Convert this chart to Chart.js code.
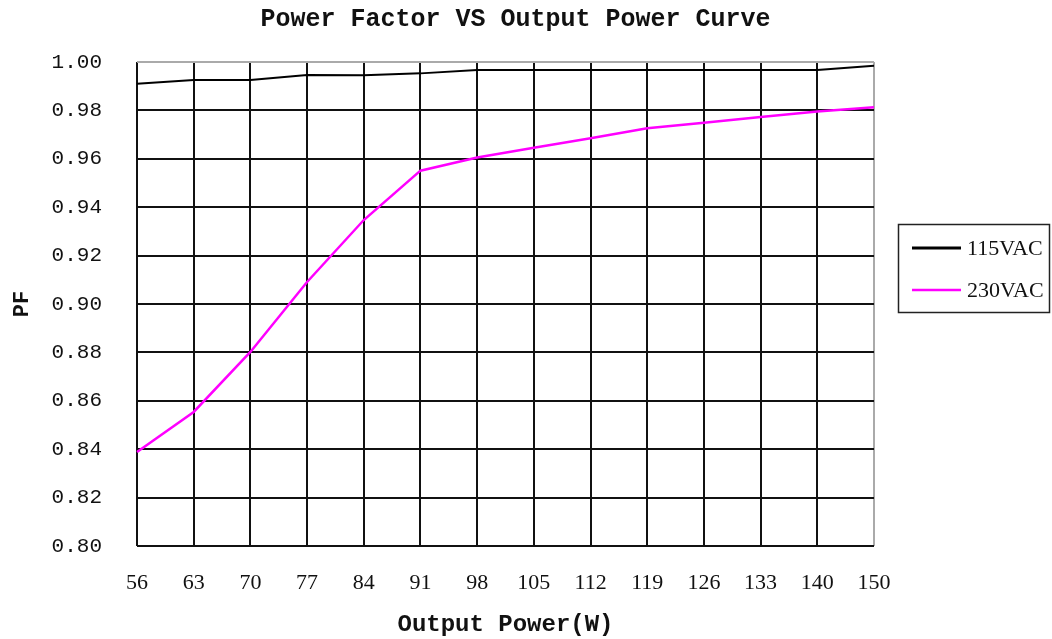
<!DOCTYPE html>
<html>
<head>
<meta charset="utf-8">
<script src="https://cdn.jsdelivr.net/npm/chart.js@4.4.0/dist/chart.umd.min.js"></script>
<style>
  html, body { margin: 0; padding: 0; background: #fff; }
  #wrap { width: 1052px; height: 639px; }
</style>
</head>
<body>
<div id="wrap"><canvas id="pf"></canvas></div>
<script>
const power = ['56', '63', '70', '77', '84', '91', '98', '105', '112', '119', '126', '133', '140', '150'];
const pf115 = [0.991, 0.9926, 0.9926, 0.9946, 0.9945, 0.9953, 0.9967, 0.9967, 0.9967, 0.9967, 0.9967, 0.9967, 0.9967, 0.9985];
const pf230 = [0.8388, 0.8554, 0.8802, 0.9091, 0.9347, 0.9551, 0.9605, 0.9646, 0.9685, 0.9726, 0.9749, 0.9773, 0.9795, 0.9813];
const yTicks = [0.80, 0.82, 0.84, 0.86, 0.88, 0.90, 0.92, 0.94, 0.96, 0.98, 1.00];
const chartTitle = 'Power Factor VS Output Power Curve';

// title over the plot area + legend in a bordered box, drawn by hand
const extras = {
  id: 'extras',
  afterDraw(chart) {
    const c = chart.ctx;
    const a = chart.chartArea;
    c.save();
    c.fillStyle = '#111';
    c.font = 'bold 25px "Liberation Mono"';
    c.textAlign = 'center';
    c.textBaseline = 'middle';
    c.fillText(chartTitle, (a.left + a.right) / 2 + 10, 20);

    c.textAlign = 'left';
    c.strokeStyle = '#222';
    c.lineWidth = 1.5;
    c.strokeRect(898.5, 224.5, 151, 88);
    c.font = '22px "Liberation Serif"';
    chart.data.datasets.forEach((ds, i) => {
      const y = 248 + i * 42;
      c.strokeStyle = ds.borderColor;
      c.lineWidth = i === 0 ? 3 : 2.5;
      c.beginPath();
      c.moveTo(912, y);
      c.lineTo(961, y);
      c.stroke();
      c.fillStyle = '#111';
      c.fillText(ds.label, 967, y + 1);
    });
    c.restore();
  }
};

new Chart(document.getElementById('pf'), {
  type: 'line',
  data: {
    labels: power,
    datasets: [
      { label: '115VAC', data: pf115, borderColor: '#000', borderWidth: 2, pointRadius: 0, tension: 0 },
      { label: '230VAC', data: pf230, borderColor: '#ff00ff', borderWidth: 2.5, pointRadius: 0, tension: 0 }
    ]
  },
  options: {
    responsive: true,
    maintainAspectRatio: false,
    animation: false,
    layout: { padding: { left: 0, right: 178, top: 62, bottom: 0 } },
    plugins: {
      legend: { display: false },
      tooltip: { enabled: false },
      title: { display: false }
    },
    scales: {
      x: {
        offset: false,
        grid: {
          color: ctx => ctx.index === power.length - 1 ? '#aaa' : '#111',
          lineWidth: 2,
          drawTicks: false
        },
        border: { display: false },
        ticks: {
          color: '#111',
          padding: 24,
          maxRotation: 0,
          autoSkip: false,
          font: { family: '"Liberation Serif"', size: 22 }
        },
        title: {
          display: true,
          text: 'Output Power(W)',
          color: '#111',
          font: { family: '"Liberation Mono"', size: 24, weight: 'bold' },
          padding: { top: 0, bottom: 0 }
        },
        afterFit(s) { s.height = 93; }
      },
      y: {
        min: 0.80,
        max: 1.00,
        afterBuildTicks(s) { s.ticks = yTicks.map(v => ({ value: v })); },
        grid: {
          color: ctx => ctx.tick && ctx.tick.value === 1.00 ? '#aaa' : '#111',
          lineWidth: 2,
          drawTicks: false
        },
        border: { display: false },
        ticks: {
          color: '#111',
          padding: 35,
          font: { family: '"Liberation Mono"', size: 21 },
          callback: v => Number(v).toFixed(2)
        },
        title: {
          display: true,
          text: 'PF',
          color: '#111',
          font: { family: '"Liberation Mono"', size: 22, weight: 'bold' },
          padding: { top: 9, bottom: 0 }
        },
        afterFit(s) { s.width = 137; }
      }
    }
  },
  plugins: [extras]
});
</script>
</body>
</html>
